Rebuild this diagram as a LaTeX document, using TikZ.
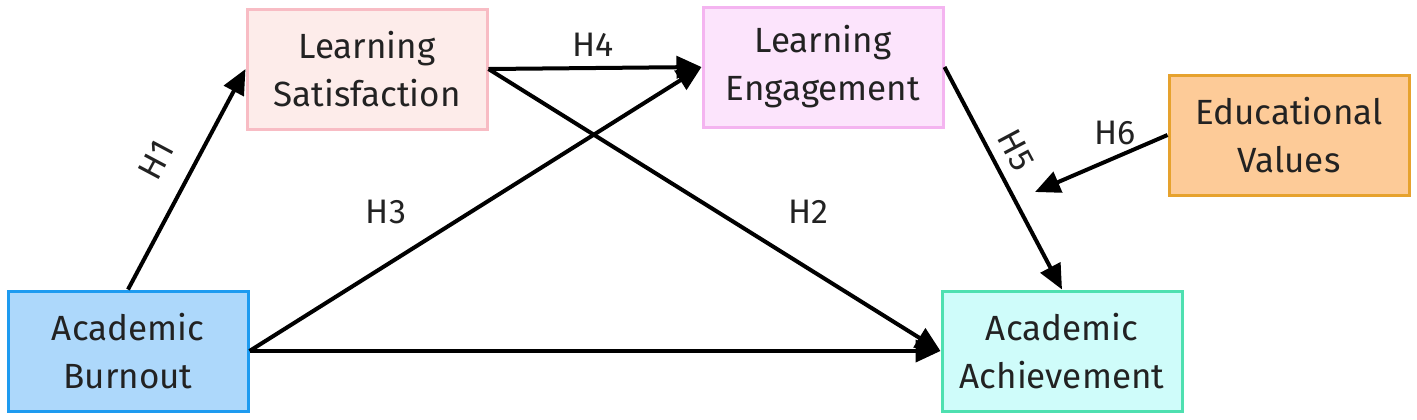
\documentclass[tikz,border=0pt]{standalone}
\usepackage{fontspec}
\setmainfont{Fira Sans}
\usetikzlibrary{arrows.meta}
\definecolor{abfill}{HTML}{ADD8FB}\definecolor{abdraw}{HTML}{1E9BF0}
\definecolor{lsfill}{HTML}{FDECEA}\definecolor{lsdraw}{HTML}{F8BCC4}
\definecolor{lefill}{HTML}{FCE4FC}\definecolor{ledraw}{HTML}{F4B4F0}
\definecolor{aafill}{HTML}{CFFCFA}\definecolor{aadraw}{HTML}{4EE0B0}
\definecolor{evfill}{HTML}{FDCB98}\definecolor{evdraw}{HTML}{E6A22E}
\definecolor{txt}{HTML}{222222}
\tikzset{
  box/.style={rectangle, line width=1.5pt, minimum width=120pt, minimum height=60pt,
    align=center, text=txt, font=\fontsize{17.5}{24}\selectfont, inner sep=0pt},
  link/.style={line width=2pt, -{Triangle[length=12.5pt,width=11pt]}},
  lab/.style={text=txt, font=\fontsize{17}{18}\selectfont, inner sep=0pt}
}
\begin{document}
\begin{tikzpicture}[x=0.5pt,y=-0.5pt]
\useasboundingbox (0,0) rectangle (1417,419);
\node[box, fill=abfill, draw=abdraw] (ab) at (128,351) {Academic\\Burnout};
\node[box, fill=lsfill, draw=lsdraw] (ls) at (367,69) {Learning\\Satisfaction};
\node[box, fill=lefill, draw=ledraw] (le) at (823,67) {Learning\\Engagement};
\node[box, fill=aafill, draw=aadraw] (aa) at (1062,351) {Academic\\Achievement};
\node[box, fill=evfill, draw=evdraw] (ev) at (1289,135) {Educational\\Values};
\coordinate (h6end) at (1035,192);
\draw[link] (ab.north) -- (ls.west);
\draw[link] (ab.east) -- (le.west);
\draw[link] (ab.east) -- (aa.west);
\draw[link] (ls.east) -- (le.west);
\draw[link] (ls.east) -- (aa.west);
\draw[link] (le.east) -- (aa.north);
\draw[link] (ev.west) -- (h6end);
\node[lab, rotate=62] (l1) at (156,160) {H1};
\node[lab] (l3) at (386,212) {H3};
\node[lab] (l4) at (593,45) {H4};
\node[lab] (l2) at (808,212) {H2};
\node[lab, rotate=-62] (l5) at (1016,150) {H5};
\node[lab] (l6) at (1115,133) {H6};
\end{tikzpicture}
\end{document}
